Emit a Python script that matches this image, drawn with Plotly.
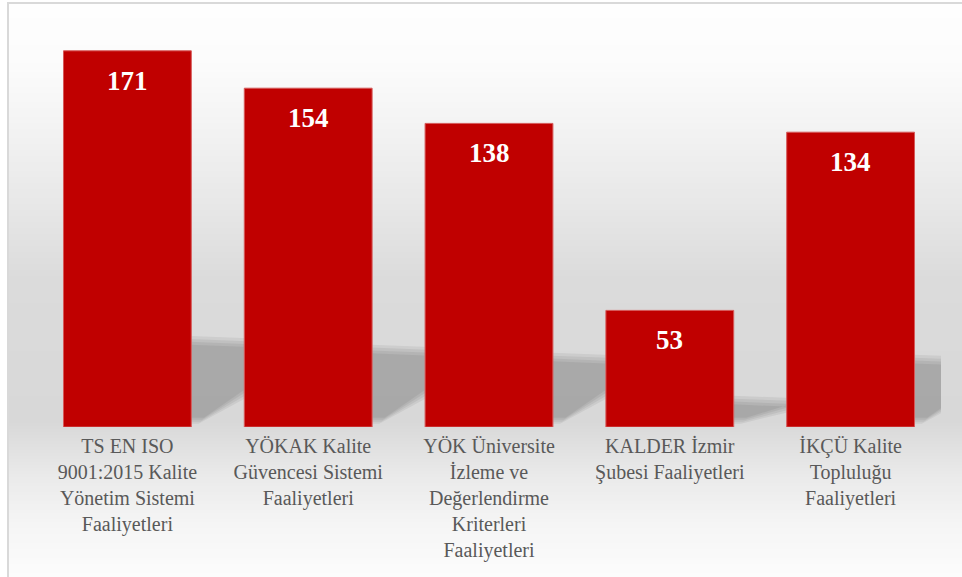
import plotly.graph_objects as go
import numpy as np

categories = [
    "TS EN ISO<br>9001:2015 Kalite<br>Yönetim Sistemi<br>Faaliyetleri",
    "YÖKAK Kalite<br>Güvencesi Sistemi<br>Faaliyetleri",
    "YÖK Üniversite<br>İzleme ve<br>Değerlendirme<br>Kriterleri<br>Faaliyetleri",
    "KALDER İzmir<br>Şubesi Faaliyetleri",
    "İKÇÜ Kalite<br>Topluluğu<br>Faaliyetleri",
]
values = [171, 154, 138, 53, 134]

W, H = 962, 577
ML, MR, MT, MB = 37, 21, 31, 150
YMAX = 180
plot_w = W - ML - MR
plot_h = H - MT - MB
SERIF = "Liberation Serif, 'Times New Roman', Times, serif"

def px_to_paper_x(px):
    return (px - ML) / plot_w

def py_to_paper_y(py):
    return (H - MB - py) / plot_h

BAR_COLOR = "#C00000"
xs = list(range(len(values)))

fig = go.Figure()
fig.add_trace(go.Bar(
    x=xs, y=values, width=0.707,
    marker=dict(color=BAR_COLOR, line=dict(color="#d65a5a", width=1)),
    hoverinfo="skip",
))

shapes = []
# background gradient (decorative)
stops_py = [4, 60, 120, 200, 280, 420, 440, 480, 530, 577]
stops_g = [254, 252, 244, 232, 219, 216, 222, 235, 246, 252]
step = 3
for py in range(3, H, step):
    g = int(round(np.interp(py + step / 2, stops_py, stops_g)))
    shapes.append(dict(
        type="rect", xref="paper", yref="paper", layer="below",
        x0=px_to_paper_x(9), x1=px_to_paper_x(W + 5),
        y0=py_to_paper_y(py), y1=py_to_paper_y(min(py + step + 0.5, H + 2)),
        line=dict(width=0), fillcolor=f"rgb({g},{g},{g})",
    ))
# frame border
shapes.append(dict(type="rect", xref="paper", yref="paper", layer="below",
                   x0=px_to_paper_x(8), x1=px_to_paper_x(W + 10),
                   y0=py_to_paper_y(H + 10), y1=py_to_paper_y(3),
                   line=dict(color="#d9d9d9", width=2), fillcolor="rgba(0,0,0,0)"))

# soft shadows behind bars (derived from values)
half = 0.3535
for i, v in zip(xs, values):
    xr = i + half
    t = 0.23 * v + 2
    d = 0.32
    br = min(14.0, 0.5 * t)
    for k in range(4):
        ins_t = k * 1.3
        ins_b = k * 0.9
        ins_x = k * 0.01
        path = (f"M {xr},{t - ins_t} L {xr + d - ins_x},{t - ins_t - 1.0} "
                f"L {xr + d - ins_x},{br + ins_b} L {xr + 0.04 + ins_x},{1.5 + ins_b} "
                f"L {xr},{1.5 + ins_b} Z")
        shapes.append(dict(type="path", xref="x", yref="y", layer="below",
                           path=path, line=dict(width=0),
                           fillcolor="rgba(0,0,0,0.058)"))

annotations = []
for i, v in zip(xs, values):
    annotations.append(dict(
        x=i, y=v, xref="x", yref="y", text=f"<b>{v}</b>", showarrow=False,
        yanchor="top", yshift=-13,
        font=dict(family=SERIF, size=27, color="white"),
    ))

fig.update_layout(
    width=W, height=H,
    margin=dict(l=ML, r=MR, t=MT, b=MB, pad=0),
    paper_bgcolor="white", plot_bgcolor="rgba(0,0,0,0)",
    font=dict(family=SERIF, color="#595959"),
    showlegend=False, bargap=0.29,
    shapes=shapes, annotations=annotations,
    xaxis=dict(range=[-0.5, len(values) - 0.5], tickvals=xs, ticktext=categories,
               tickangle=0, showgrid=False, zeroline=False, showline=False,
               ticks="outside", ticklen=1, tickcolor="rgba(0,0,0,0)",
               tickfont=dict(family=SERIF, size=20, color="#595959")),
    yaxis=dict(range=[0, YMAX], visible=False, showgrid=False, zeroline=False),
)

fig.write_html("out.html", config={"displayModeBar": False},
               post_script="document.body.style.margin='0px';")
